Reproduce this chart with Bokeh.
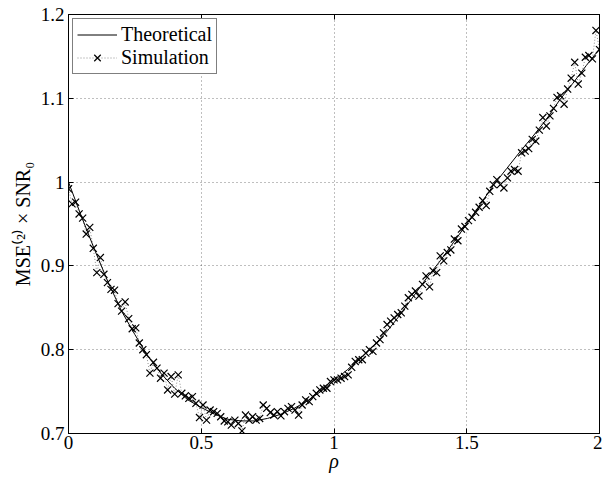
import numpy as np
from bokeh.plotting import figure
from bokeh.models import FixedTicker, LinearAxis, Range1d
from bokeh.embed import file_html
from bokeh.resources import INLINE

# ---- data ----
x_ticks = [0, 0.5, 1, 1.5, 2]
x_tick_labels = ["0", "0.5", "1", "1.5", "2"]
y_ticks = [0.7, 0.8, 0.9, 1.0, 1.1, 1.2]
y_tick_labels = ["0.7", "0.8", "0.9", "1", "1.1", "1.2"]

rho_theory = np.linspace(0, 2, 41)
mse_theory = [1.000, 0.958, 0.918, 0.880, 0.846, 0.818, 0.792, 0.771, 0.754, 0.740,
              0.731, 0.723, 0.717, 0.715, 0.715, 0.718, 0.723, 0.730, 0.739, 0.750,
              0.763, 0.776, 0.790, 0.805, 0.822, 0.842, 0.864, 0.886, 0.906, 0.928,
              0.950, 0.973, 0.996, 1.016, 1.036, 1.055, 1.075, 1.098, 1.118, 1.139,
              1.159]

rho_sim = np.linspace(0, 2, 151)
mse_sim = [0.992, 0.974, 0.976, 0.962, 0.957, 0.938, 0.946, 0.921, 0.892, 0.910,
           0.890, 0.880, 0.872, 0.871, 0.855, 0.846, 0.857, 0.837, 0.825, 0.826,
           0.808, 0.800, 0.794, 0.772, 0.785,
           0.778, 0.766, 0.772, 0.752, 0.768, 0.747, 0.770, 0.748, 0.745, 0.742,
           0.744, 0.736, 0.719, 0.734, 0.716, 0.728, 0.726, 0.724, 0.720, 0.715,
           0.714, 0.710, 0.716, 0.712, 0.703,
           0.722, 0.716, 0.720, 0.716, 0.718, 0.734, 0.730, 0.725, 0.722, 0.726,
           0.721, 0.726, 0.730, 0.732, 0.728, 0.722, 0.734, 0.740, 0.738, 0.744,
           0.748, 0.752, 0.754, 0.754, 0.762,
           0.764, 0.764, 0.766, 0.768, 0.770, 0.779, 0.786, 0.788, 0.788, 0.796,
           0.800, 0.798, 0.808, 0.812, 0.820, 0.830, 0.834, 0.838, 0.842, 0.844,
           0.852, 0.862, 0.866, 0.870, 0.864,
           0.878, 0.888, 0.875, 0.894, 0.892, 0.912, 0.906, 0.916, 0.919, 0.932,
           0.930, 0.944, 0.947, 0.954, 0.958, 0.964, 0.970, 0.978, 0.972, 0.989,
           0.997, 1.003, 0.997, 0.993, 1.005,
           1.013, 1.015, 1.013, 1.035, 1.037, 1.040, 1.051, 1.049, 1.062, 1.077,
           1.067, 1.079, 1.088, 1.101, 1.103, 1.093, 1.111, 1.124, 1.143, 1.117,
           1.130, 1.149, 1.151, 1.147, 1.181, 1.158]

FONT = "Liberation Serif"
FS = "19px"

p = figure(width=602, height=479, x_range=Range1d(0, 2), y_range=Range1d(0.7, 1.2),
           output_backend="svg", toolbar_location=None,
           min_border_left=68, min_border_right=3, min_border_top=14, min_border_bottom=46,
           background_fill_color="white", border_fill_color="white")
p.outline_line_color = "black"
p.outline_line_width = 1

xt = FixedTicker(ticks=x_ticks)
yt = FixedTicker(ticks=y_ticks)

for ax, t, labs in ((p.xaxis[0], xt, x_tick_labels), (p.yaxis[0], yt, y_tick_labels)):
    ax.ticker = t
    ax.major_label_overrides = dict(zip(t.ticks, labs))
    ax.major_tick_in = 5
    ax.major_tick_out = 0
    ax.minor_tick_line_color = None
    ax.axis_line_color = "black"
    ax.major_tick_line_color = "black"
    ax.major_label_text_font = FONT
    ax.major_label_text_font_size = FS
    ax.major_label_text_color = "black"
    ax.axis_label_text_font = FONT
    ax.axis_label_text_font_size = "20px"
    ax.axis_label_text_color = "black"

p.xaxis.axis_label = "ρ"
p.xaxis.axis_label_text_font_style = "italic"
p.xaxis.major_label_standoff = 2
p.xaxis.axis_label_standoff = -2
p.yaxis.axis_label = "MSE⁽²⁾ × SNR₀"
p.yaxis.axis_label_text_font_style = "normal"
p.yaxis.major_label_standoff = 4
p.yaxis.axis_label_standoff = 4

for loc, t in (("right", yt), ("above", xt)):
    ax = LinearAxis(ticker=t, major_label_text_font_size="0px", major_label_text_color=None,
                    major_tick_in=5, major_tick_out=0, minor_tick_line_color=None,
                    major_label_standoff=0, axis_line_color="black",
                    major_tick_line_color="black")
    p.add_layout(ax, loc)

p.xgrid.ticker = xt
p.ygrid.ticker = yt
for g in (p.xgrid[0], p.ygrid[0]):
    g.grid_line_color = "black"
    g.grid_line_alpha = 0.5
    g.grid_line_dash = "1 3"
    g.grid_line_width = 1

p.line(rho_theory, mse_theory, line_color="black", line_width=1, legend_label="Theoretical")
p.line(rho_sim, mse_sim, line_color="black", line_alpha=0.45, line_width=1,
       line_dash="1 2", legend_label="Simulation")
p.scatter(rho_sim, mse_sim, marker="x", size=10, line_color="black", line_width=1.2,
          legend_label="Simulation")

lg = p.legend[0]
lg.location = "top_left"
lg.margin = 4
lg.padding = 4
lg.spacing = 0
lg.glyph_width = 40
lg.glyph_height = 23
lg.label_height = 23
lg.label_standoff = 4
lg.label_text_font = FONT
lg.label_text_font_size = "20px"
lg.label_text_color = "black"
lg.border_line_color = "black"
lg.border_line_width = 1
lg.background_fill_color = "white"
lg.background_fill_alpha = 1

open("out.html", "w").write(file_html(p, INLINE))
